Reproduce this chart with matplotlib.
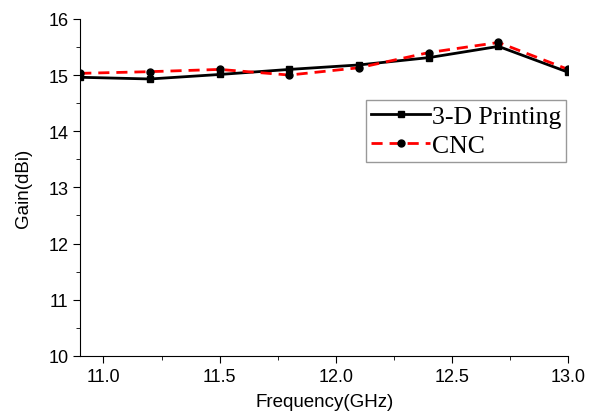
import matplotlib
matplotlib.use("Agg")
import matplotlib.pyplot as plt
from matplotlib.ticker import MultipleLocator

freq = [10.9, 11.2, 11.5, 11.8, 12.1, 12.4, 12.7, 13.0]
gain_3d = [14.96, 14.93, 15.01, 15.10, 15.18, 15.31, 15.51, 15.05]
gain_cnc = [15.03, 15.06, 15.10, 15.00, 15.13, 15.40, 15.58, 15.10]

plt.rcParams["font.family"] = ["Liberation Sans", "DejaVu Sans"]

fig = plt.figure(figsize=(5.9, 4.14), dpi=100)
ax = fig.add_axes([0.136, 0.138, 0.827, 0.814])

ax.plot(freq, gain_3d, color="black", lw=2, marker="s", ms=5,
        mfc="black", mec="black", label="3-D Printing", zorder=3)
ax.plot(freq, gain_cnc, color="red", lw=2, ls=(0, (4, 2.5)), marker="o", ms=5,
        mfc="black", mec="black", label="CNC", zorder=4)

ax.set_xlim(10.9, 13.0)
ax.set_ylim(10, 16)
ax.xaxis.set_major_locator(MultipleLocator(0.5))
ax.xaxis.set_minor_locator(MultipleLocator(0.25))
ax.yaxis.set_major_locator(MultipleLocator(1))
ax.yaxis.set_minor_locator(MultipleLocator(0.5))
ax.xaxis.set_major_formatter(plt.FormatStrFormatter("%.1f"))

for side in ("top", "right"):
    ax.spines[side].set_visible(False)
ax.tick_params(which="both", direction="out", labelsize=13)
ax.tick_params(which="major", length=5)
ax.tick_params(which="minor", length=3)

ax.set_xlabel("Frequency(GHz)", fontsize=13.5, labelpad=6)
ax.set_ylabel("Gain(dBi)", fontsize=13.5, labelpad=12)

leg = ax.legend(loc="upper left", bbox_to_anchor=(0.586, 0.76), borderaxespad=0,
                frameon=True, fancybox=False, edgecolor="gray", handlelength=2.3,
                handletextpad=0.05, borderpad=0.2, labelspacing=0.22,
                prop={"family": "Liberation Serif", "size": 18.5})
leg.get_frame().set_linewidth(1)

fig.savefig("out.png", dpi=100)
